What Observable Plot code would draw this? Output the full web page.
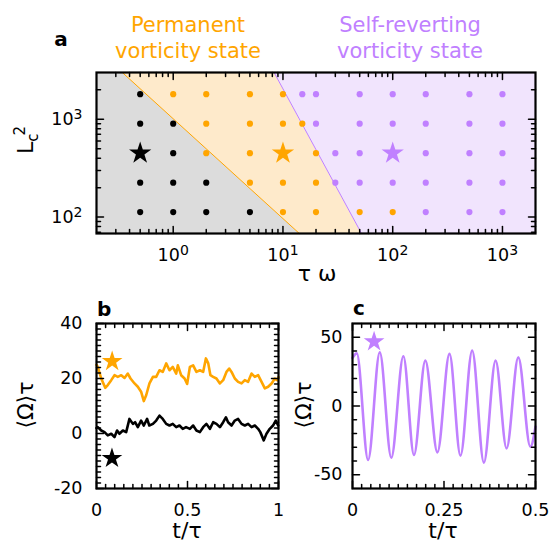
<!DOCTYPE html>
<html><head><meta charset="utf-8">
<script src="https://cdn.jsdelivr.net/npm/d3@7"></script>
<script src="https://cdn.jsdelivr.net/npm/@observablehq/plot@0.6"></script>
<style>
body{margin:0;background:#fff;}
#wrap{position:relative;width:550px;height:545px;overflow:hidden;font-family:"DejaVu Sans",sans-serif;}
.pane{position:absolute;}
#overlay{position:absolute;left:0;top:0;pointer-events:none;}
</style></head><body><div id="wrap"></div>
<script>
const ORANGE = "#ffa500", PURPLE = "#c080ff";
const GRAY_FILL = "#dcdcdc", ORANGE_FILL = "#feeacb", PURPLE_FILL = "#f1e4fd";

// ---- panel a data ----
const xDomainA = [0.2, 2000];
const yDomainA = [68, 3000];
const xMajorA = [1, 10, 100, 1000];
const yMajorA = [100, 1000];
const blackPts = [[0.5,1800],[0.5,900],[1,900],[1,450],[0.5,225],[1,225],[2,225],[0.5,112.5],[1,112.5],[2,112.5],[5,112.5]];
const orangePts = [[1,1800],[2,1800],[5,1800],[10,1800],[2,900],[5,900],[10,900],[15,900],[2,450],[5,450],[20,450],[5,225],[10,225],[20,225],[10,112.5],[20,112.5],[50,112.5],[100,112.5]];
const purplePts = [[15,1800],[20,1800],[50,1800],[100,1800],[200,1800],[500,1800],[1000,1800],[20,900],[50,900],[100,900],[200,900],[500,900],[1000,900],[30,450],[50,450],[200,450],[500,450],[1000,450],[30,225],[50,225],[100,225],[200,225],[500,225],[1000,225],[200,112.5],[500,112.5],[1000,112.5]];
const starPtsA = [[0.5,450],[10,450],[100,450]];
const starColors = ["black", ORANGE, PURPLE];
const boundaryY = [68, 3000];
const boundaryOrangeX = [14.1, 0.344];
const boundaryPurpleX = [52, 8.3];

// ---- panel b data ----
const tOrange = [0,0.007,0.026,0.048,0.062,0.081,0.099,0.117,0.136,0.154,0.172,0.187,0.209,0.227,0.245,0.26,0.273,0.291,0.31,0.328,0.346,0.364,0.383,0.401,0.419,0.438,0.447,0.465,0.484,0.498,0.513,0.531,0.549,0.568,0.586,0.601,0.614,0.626,0.641,0.659,0.678,0.696,0.714,0.729,0.742,0.76,0.778,0.797,0.815,0.833,0.852,0.87,0.888,0.907,0.925,0.943,0.962,0.98,0.993,1];
const vOrange = [25,24.2,20,16.6,17.6,19.4,21.2,20.6,21.2,20.2,21.8,20,18.2,17,15.2,11.8,13.9,18.2,20.6,20.6,23,22.4,25.5,23,24.2,21.8,24.8,21.2,20,18,24.2,24.8,22.4,23,22.4,27.3,25.5,21.2,20.6,20,18.2,19.4,22.4,23.6,22.4,20,18.8,18.2,19.4,18.8,21.8,20.6,21.2,18.8,16.4,17,18.2,20,19.4,20.5];
const tBlack = [0,0.007,0.026,0.044,0.062,0.081,0.099,0.113,0.126,0.145,0.163,0.181,0.2,0.212,0.227,0.245,0.26,0.278,0.29,0.31,0.328,0.346,0.364,0.383,0.401,0.419,0.438,0.456,0.474,0.492,0.513,0.531,0.549,0.568,0.586,0.604,0.623,0.641,0.659,0.678,0.696,0.711,0.723,0.742,0.76,0.778,0.797,0.815,0.833,0.852,0.87,0.888,0.9,0.919,0.934,0.952,0.97,0.985,0.998];
const vBlack = [2,2.3,1.1,0.5,-0.7,-0.1,-1.3,1.1,-0.1,1.1,0.5,5.3,3.5,4.1,2.3,4.7,2.9,5.3,2.9,3.5,4.7,6.5,5.3,3.5,2.9,3.5,2.3,2.9,1.7,2.3,1.7,2.9,1.1,0.5,2.3,3.5,1.7,4.1,3.5,2.3,4.1,5.9,4.1,2.9,4.7,5.3,3.5,2.9,3.5,2.3,2.9,1.7,0.5,-2.5,-0.1,1.7,2.9,4.7,2.9];
const starOrangeB = [0.086, 26.2];
const starBlackB = [0.085, -9];
const xTicksB = [0, 0.5, 1];
const yTicksB = [-20, 0, 20, 40];

// ---- panel c data ----
const tPurple = [0,0.0117,0.0426,0.0745,0.106,0.139,0.168,0.199,0.232,0.265,0.295,0.327,0.359,0.391,0.421,0.453,0.486,0.5];
const vPurple = [35,38.3,-39.3,39.0,-37.6,36.2,-35.6,33,-33.7,37.9,-36.1,40.3,-41.2,33,-30.8,35.4,-29.6,-15];
const starPurpleC = [0.059, 46.8];
const xTicksC = [0, 0.25, 0.5];
const yTicksC = [-50, 0, 50];

// ---- helpers ----
const tickShape = {draw(ctx, l) { ctx.moveTo(0, 0); ctx.lineTo(0, -l); }};
function ticksX(vals, len) {
  return [
    Plot.vectorX(vals, {x: d => d, frameAnchor: "bottom", length: len, rotate: 0, anchor: "start", shape: tickShape, stroke: "black"}),
    Plot.vectorX(vals, {x: d => d, frameAnchor: "top", length: len, rotate: 180, anchor: "start", shape: tickShape, stroke: "black"})
  ];
}
function ticksY(vals, len) {
  return [
    Plot.vectorY(vals, {y: d => d, frameAnchor: "left", length: len, rotate: 90, anchor: "start", shape: tickShape, stroke: "black"}),
    Plot.vectorY(vals, {y: d => d, frameAnchor: "right", length: len, rotate: -90, anchor: "start", shape: tickShape, stroke: "black"})
  ];
}
function logMinor(domain) {
  const out = [];
  for (let e = -1; e <= 3; e++) for (let k = 2; k <= 9; k++) {
    const v = k * Math.pow(10, e);
    if (v > domain[0] * 1.001 && v < domain[1] * 0.999) out.push(v);
  }
  return out;
}
function linMinor(lo, hi, step, majors) {
  const out = [];
  const n = Math.round((hi - lo) / step);
  for (let i = 1; i < n; i++) {
    const v = +(lo + i * step).toFixed(6);
    if (!majors.some(m => Math.abs(m - v) < 1e-9)) out.push(v);
  }
  return out;
}
const STYLE = {fontFamily: "DejaVu Sans", fontSize: "17px", overflow: "visible", background: "transparent"};
const TICKFONT = 17.5;
function supify(svg) {
  d3.select(svg).selectAll('g[aria-label="x-axis tick label"] text, g[aria-label="y-axis tick label"] text').each(function() {
    const s = this.textContent; const i = s.indexOf("^");
    if (i < 0) return;
    this.textContent = s.slice(0, i);
    d3.select(this).append("tspan").attr("dy", "-0.42em").attr("font-size", "0.8em").text(s.slice(i + 1));
  });
}
function place(el, left, top) {
  const div = document.createElement("div");
  div.className = "pane"; div.style.left = left + "px"; div.style.top = top + "px";
  div.appendChild(el); document.getElementById("wrap").appendChild(div);
}

// ---- panel a ----
const regions = boundaryY.map((y, i) => ({y, lo: xDomainA[0], ob: boundaryOrangeX[i], pb: boundaryPurpleX[i], hi: xDomainA[1]}));
const plotA = Plot.plot({
  width: 550, height: 290, marginTop: 72, marginLeft: 96, marginRight: 15, marginBottom: 57,
  style: STYLE,
  x: {type: "log", domain: xDomainA, label: null},
  y: {type: "log", domain: yDomainA, label: null},
  marks: [
    Plot.areaX(regions, {y: "y", x1: "lo", x2: "ob", fill: GRAY_FILL}),
    Plot.areaX(regions, {y: "y", x1: "ob", x2: "pb", fill: ORANGE_FILL}),
    Plot.areaX(regions, {y: "y", x1: "pb", x2: "hi", fill: PURPLE_FILL}),
    Plot.line(regions, {x: "ob", y: "y", stroke: ORANGE, strokeWidth: 1}),
    Plot.line(regions, {x: "pb", y: "y", stroke: PURPLE, strokeWidth: 1}),
    Plot.dot(blackPts, {x: "0", y: "1", r: 3.1, fill: "black"}),
    Plot.dot(orangePts, {x: "0", y: "1", r: 3.1, fill: ORANGE}),
    Plot.dot(purplePts, {x: "0", y: "1", r: 3.1, fill: PURPLE}),
    ...starPtsA.map((p, i) => Plot.dot([p], {x: "0", y: "1", r: 7, symbol: "star", fill: starColors[i]})),
    Plot.frame({stroke: "black", strokeWidth: 2.2}),
    ...ticksX(xMajorA, 7), ...ticksX(logMinor(xDomainA), 4),
    ...ticksY(yMajorA, 7), ...ticksY(logMinor(yDomainA), 4),
    Plot.axisX({ticks: xMajorA, tickSize: 0, tickPadding: 15, label: null, fontSize: TICKFONT, tickFormat: d => "10^" + Math.round(Math.log10(d))}),
    Plot.axisY({ticks: yMajorA, tickSize: 0, tickPadding: 14, label: null, fontSize: TICKFONT, tickFormat: d => "10^" + Math.round(Math.log10(d))})
  ]
});
supify(plotA);
place(plotA, 0, 0);

// ---- panel b ----
const plotB = Plot.plot({
  width: 290, height: 255, marginTop: 33, marginLeft: 96, marginRight: 12, marginBottom: 57,
  style: STYLE,
  x: {domain: [0, 1], label: null},
  y: {domain: [-20, 40], label: null},
  marks: [
    Plot.line(tOrange.map((t, i) => [t, vOrange[i]]), {x: "0", y: "1", stroke: ORANGE, strokeWidth: 2.6}),
    Plot.line(tBlack.map((t, i) => [t, vBlack[i]]), {x: "0", y: "1", stroke: "black", strokeWidth: 2.6}),
    Plot.dot([starOrangeB], {x: "0", y: "1", r: 6.5, symbol: "star", fill: ORANGE}),
    Plot.dot([starBlackB], {x: "0", y: "1", r: 6.5, symbol: "star", fill: "black"}),
    Plot.frame({stroke: "black", strokeWidth: 2.2}),
    ...ticksX(xTicksB, 7), ...ticksX(linMinor(0, 1, 0.05, xTicksB), 4),
    ...ticksY(yTicksB, 7), ...ticksY(linMinor(-20, 40, 2, yTicksB), 4),
    Plot.axisX({ticks: xTicksB, tickSize: 0, tickPadding: 15, label: null, fontSize: TICKFONT, tickFormat: d => String(d)}),
    Plot.axisY({ticks: yTicksB, tickSize: 0, tickPadding: 14, label: null, fontSize: TICKFONT, tickFormat: d => String(d)})
  ]
});
place(plotB, 0, 290);

// ---- panel c ----
const plotC = Plot.plot({
  width: 270, height: 255, marginTop: 33, marginLeft: 72, marginRight: 15, marginBottom: 57,
  style: STYLE,
  x: {domain: [0, 0.5], label: null},
  y: {domain: [-60, 60], label: null},
  marks: [
    Plot.line(tPurple.map((t, i) => [t, vPurple[i]]), {x: "0", y: "1", stroke: PURPLE, strokeWidth: 2.6, curve: "monotone-x"}),
    Plot.dot([starPurpleC], {x: "0", y: "1", r: 6.5, symbol: "star", fill: PURPLE}),
    Plot.frame({stroke: "black", strokeWidth: 2.2}),
    ...ticksX(xTicksC, 7), ...ticksX(linMinor(0, 0.5, 0.025, xTicksC), 4),
    ...ticksY(yTicksC, 7), ...ticksY(linMinor(-60, 60, 10, yTicksC), 4),
    Plot.axisX({ticks: xTicksC, tickSize: 0, tickPadding: 15, label: null, fontSize: TICKFONT, tickFormat: d => String(d)}),
    Plot.axisY({ticks: yTicksC, tickSize: 0, tickPadding: 10, label: null, fontSize: TICKFONT, tickFormat: d => String(d)})
  ]
});
place(plotC, 280, 290);

// ---- overlay text ----
const ov = d3.select("#wrap").append("svg").attr("id", "overlay").attr("width", 550).attr("height", 545)
  .attr("font-family", "DejaVu Sans");
function txt(x, y, s, opts = {}) {
  const t = ov.append("text").attr("x", x).attr("y", y).text(s)
    .attr("font-size", opts.size || 21).attr("fill", opts.fill || "black")
    .attr("text-anchor", opts.anchor || "middle");
  if (opts.bold) t.attr("font-weight", "bold");
  return t;
}
txt(188, 32, "Permanent", {fill: ORANGE});
txt(188, 58, "vorticity state", {fill: ORANGE});
txt(410, 32, "Self-reverting", {fill: PURPLE});
txt(410, 58, "vorticity state", {fill: PURPLE});
txt(61, 46, "a", {bold: true, size: 20});
txt(97, 316, "b", {bold: true, size: 20, anchor: "start"});
txt(353, 315, "c", {bold: true, size: 20, anchor: "start"});
txt(317, 281, "τ ω", {size: 22});
txt(187, 538, "t/τ", {size: 22});
txt(443, 538, "t/τ", {size: 22});
// rotated y labels
const lc = ov.append("text").attr("transform", "translate(33,140) rotate(-90)").attr("text-anchor", "middle").attr("font-size", 22);
lc.append("tspan").text("L");
lc.append("tspan").attr("font-size", 15).attr("dy", 5).text("c");
lc.append("tspan").attr("font-size", 15).attr("dy", -13).attr("dx", -2).text("2");
ov.append("text").attr("transform", "translate(33,405) rotate(-90)").attr("text-anchor", "middle").attr("font-size", 22).text("⟨Ω⟩τ");
ov.append("text").attr("transform", "translate(311,405) rotate(-90)").attr("text-anchor", "middle").attr("font-size", 22).text("⟨Ω⟩τ");
</script></body></html>
